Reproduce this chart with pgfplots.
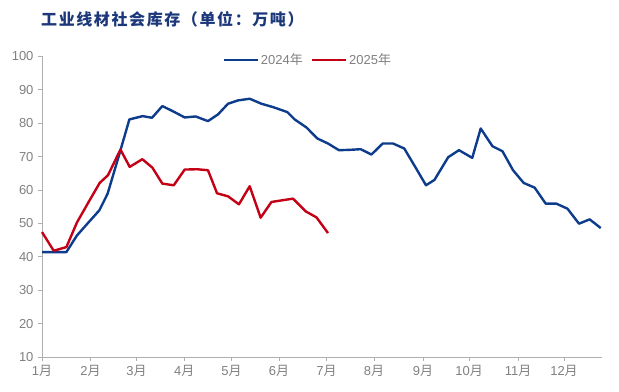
\documentclass[border=0pt]{standalone}
\usepackage{fontspec}
\setmainfont{Liberation Sans}
\newfontfamily\cjk{Noto Sans CJK SC}
\newfontfamily\cjktitle[LetterSpace=10]{Noto Sans CJK SC}
\usepackage{pgfplots}
\pgfplotsset{compat=1.18}
\definecolor{c24}{RGB}{13,60,140}
\definecolor{c25}{RGB}{196,0,22}
\definecolor{tgray}{RGB}{128,128,128}
\definecolor{agray}{RGB}{175,175,175}
\definecolor{ttl}{RGB}{28,56,122}
\newcommand{\yue}{{\cjk 月}}
\newcommand{\nian}{{\cjk 年}}

\pgfplotstableread{
d v
0 41.4
7.5 41.4
15.6 41.4
22.4 46.4
29.6 50.2
36.7 53.9
42.0 58.9
49.1 70.1
55.9 81.1
64.4 82.1
70.4 81.6
77.0 85.1
84.0 83.5
91.3 81.7
98.3 82.0
106.2 80.6
112.6 82.6
119.0 85.8
125.4 86.8
132.9 87.3
140.4 85.8
147.8 84.8
157.0 83.3
161.7 81.1
169.2 78.7
176.2 75.4
183.0 73.9
190.0 71.9
196.9 72.0
203.9 72.2
210.8 70.6
218.0 73.9
224.6 73.9
231.8 72.4
238.8 66.9
245.7 61.4
251.1 63.0
259.9 69.8
266.8 71.9
275.3 69.6
280.7 78.4
288.2 73.1
294.6 71.6
301.4 65.9
308.2 62.1
315.2 60.7
322.3 55.9
329.1 55.9
336.2 54.4
343.6 49.9
350.4 51.2
357.5 48.6
}\tblA

\pgfplotstableread{
d v
0 47.4
7.5 41.8
15.6 42.9
22.4 50.3
29.6 56.2
36.9 62.1
42.2 64.4
50.2 72.1
56.1 66.9
64.2 69.2
70.6 66.7
77.0 61.9
84.3 61.4
91.3 66.1
99.2 66.2
106.2 65.9
112.0 59.0
119.0 58.1
126.0 55.7
132.9 61.1
139.9 51.7
146.8 56.4
153.7 56.9
160.6 57.4
168.7 53.6
175.6 51.8
183.0 47.1
}\tblB

\begin{document}
\begin{tikzpicture}[x=1bp,y=1bp]
\useasboundingbox (0,0) rectangle (619,391);
\node[anchor=west, font=\cjktitle\bfseries\fontsize{16bp}{19bp}\selectfont, text=ttl, inner sep=0] at (41,372) {工业线材社会库存（单位：万吨）};
\begin{axis}[at={(42bp,34bp)}, anchor=south west, scale only axis,
  width=559.5bp, height=300.7bp,
  xmin=0, xmax=358, ymin=10, ymax=100,
  axis x line*=bottom, axis y line*=left,
  axis line style={agray, line width=0.8bp},
  xtick={0,31,60.4,91,121.2,151.6,182,212.4,243.8,273.3,304.6,334},
  xticklabels={1\yue,2\yue,3\yue,4\yue,5\yue,6\yue,7\yue,8\yue,9\yue,10\yue,11\yue,12\yue},
  ytick={10,20,...,100},
  tick style={agray, line width=0.8bp}, tick align=outside, major tick length=4bp,
  ticklabel style={font=\fontsize{13bp}{15bp}\selectfont, text=tgray},
  /pgf/number format/assume math mode=true,
  yticklabel style={xshift=-1bp},
  xticklabel style={yshift=-1bp},
  legend style={draw=none, fill=none, legend columns=2, at={(0.475,0.987)}, anchor=center,
    font=\fontsize{13bp}{15bp}\selectfont, text=tgray,
    /tikz/every even column/.append style={column sep=6bp}},
  legend image code/.code={\draw[#1] (0bp,0bp) -- (34bp,0bp);},
  clip=false,
]
\addplot[c24, line width=2.4bp, line join=round] table[x=d, y=v] {\tblA};
\addlegendentry{2024\nian}
\addplot[c25, line width=2.4bp, line join=round] table[x=d, y=v] {\tblB};
\addlegendentry{2025\nian}
\end{axis}
\end{tikzpicture}
\end{document}
